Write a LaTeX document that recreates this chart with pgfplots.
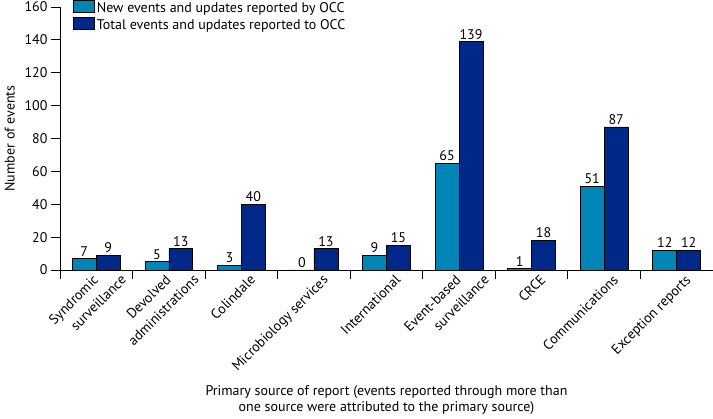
\documentclass[border=0pt]{standalone}
\usepackage{pgfplots}
\pgfplotsset{compat=1.18}
\usepackage{fontspec}
\setmainfont{PT Sans}
\definecolor{lightb}{RGB}{0,134,182}
\definecolor{darkb}{RGB}{0,40,136}
\begin{document}
\begin{tikzpicture}
\path[use as bounding box] (-60pt,-149pt) rectangle (653pt,270pt);
\begin{axis}[
  width=653pt, height=263pt, scale only axis,
  font=\fontsize{14}{16}\selectfont,
  /pgf/number format/assume math mode=true,
  ybar, bar width=0.33,
  xmin=-0.5, xmax=8.5, ymin=0, ymax=160,
  ytick={0,20,...,160},
  axis x line=bottom, axis y line=left,
  axis line style={-, line width=0.9pt},
  tick style={line width=0.9pt, black},
  tick align=outside,
  major tick length=9pt,
  xtick={-0.5,0.5,...,8.5},
  xticklabels={},
  extra x ticks={-0.165,0.22,0.835,1.22,2,3,4,4.835,5.22,6,7,8},
  extra x tick labels={Syndromic, surveillance, Devolved, administrations, Colindale, Microbiology services, International, Event-based, surveillance, CRCE, Communications, Exception reports},
  extra x tick style={major tick length=0pt, xticklabel style={rotate=45, anchor=north east, inner sep=1pt, yshift=-7pt, xshift=4pt}},
  ylabel={Number of events},
  ylabel style={at={(axis description cs:-0.077,0.5)}, anchor=center},
  xlabel={Primary source of report (events reported through more than\\one source were attributed to the primary source)},
  xlabel style={align=center, at={(axis description cs:0.5,0)}, anchor=north, yshift=-112pt},
  nodes near coords,
  nodes near coords style={font=\fontsize{14}{16}\selectfont, black, inner sep=2pt},
  legend style={at={(axis description cs:0.02,1.027)}, anchor=north west, draw=none, fill=none, font=\fontsize{14}{16}\selectfont, row sep=1pt, inner sep=0pt},
  legend cell align=left,
  legend image code/.code={\draw[#1, draw=black, line width=0.6pt] (0pt,-3.5pt) rectangle (21pt,8pt);},
  clip=false,
]
\addplot[fill=lightb, draw=black, line width=0.6pt, bar shift=-0.165] coordinates {(0,7) (1,5) (2,3) (3,0) (4,9) (5,65) (6,1) (7,51) (8,12)};
\addplot[fill=darkb, draw=black, line width=0.6pt, bar shift=0.165] coordinates {(0,9) (1,13) (2,40) (3,13) (4,15) (5,139) (6,18) (7,87) (8,12)};
\legend{New events and updates reported by OCC, Total events and updates reported to OCC}
\end{axis}
\end{tikzpicture}
\end{document}
